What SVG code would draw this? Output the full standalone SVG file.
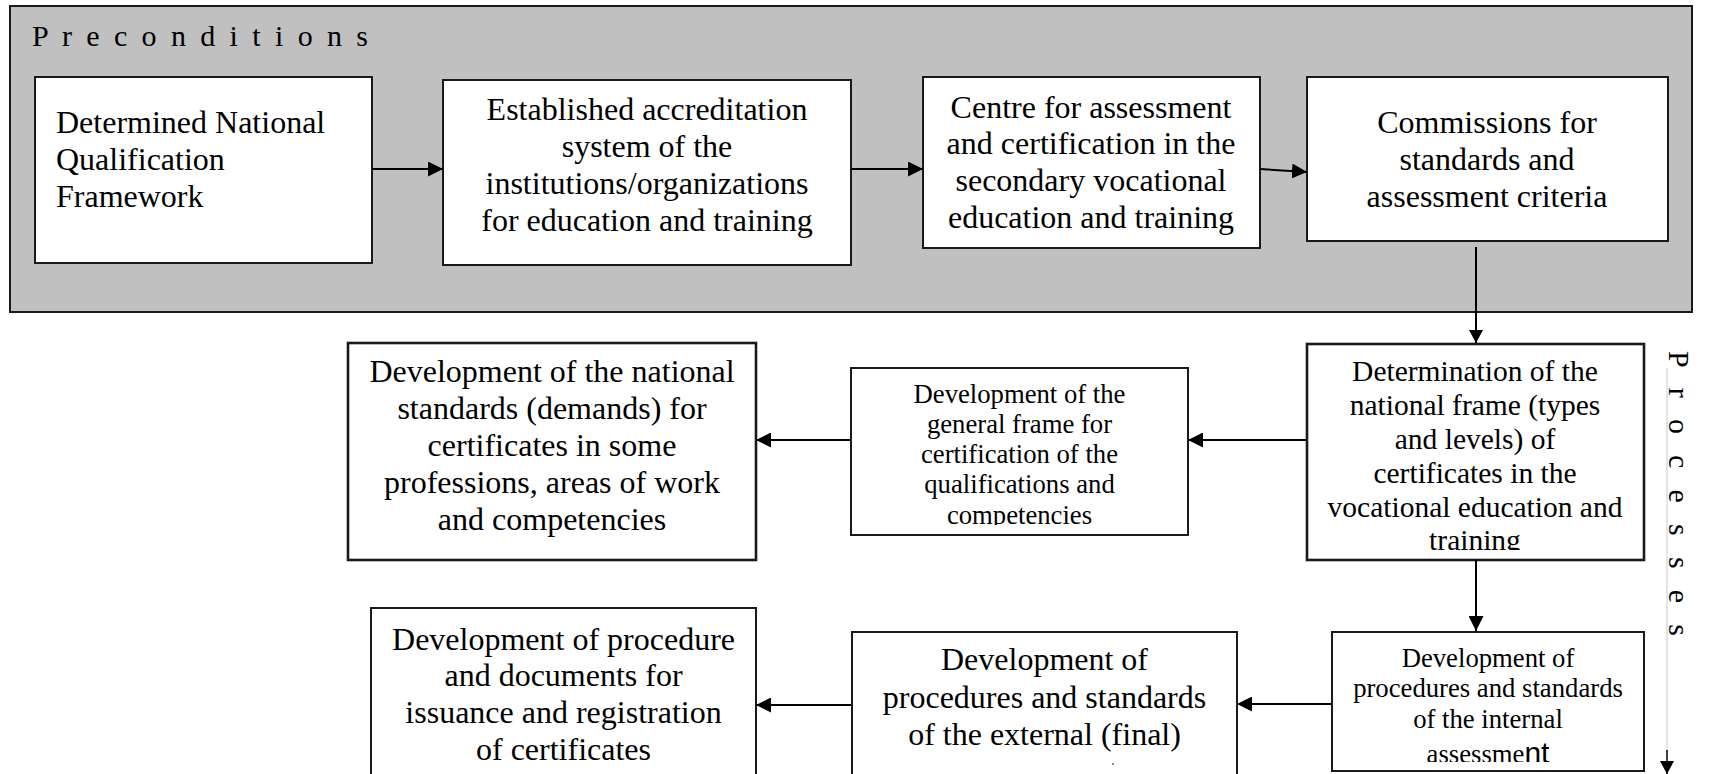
<svg xmlns="http://www.w3.org/2000/svg" width="1719" height="774" viewBox="0 0 1719 774">
<style>
.box{fill:#fff;stroke:#1a1a1a;stroke-width:2}
.thick{stroke-width:2.6}
.t{font-family:"Liberation Serif","Times New Roman",serif;fill:#000}
.t32{font-size:32px}
.t29{font-size:29.5px}
.t27{font-size:26.7px}
.c{text-anchor:middle}
.conn{fill:none;stroke:#000;stroke-width:2}
</style>
<defs>
<marker id="arr" markerUnits="userSpaceOnUse" markerWidth="16" markerHeight="15" refX="15" refY="7.5" orient="auto">
<path d="M0,0 L15,7.5 L0,15 z" fill="#000"/>
</marker>
<marker id="arrS" markerUnits="userSpaceOnUse" markerWidth="14" markerHeight="14" refX="13" refY="7" orient="auto">
<path d="M0,0 L13,7 L0,14 z" fill="#000"/>
</marker>
<clipPath id="clipGen"><rect x="851" y="368" width="337" height="157"/></clipPath>
<clipPath id="clipDet"><rect x="1307" y="344" width="337" height="206"/></clipPath>
<clipPath id="clipInt"><rect x="1332" y="632" width="312" height="130"/></clipPath>
</defs>

<g id="preconditions-panel">
<rect x="10" y="6" width="1682" height="306" fill="#c0c0c0" stroke="#1a1a1a" stroke-width="2"/>
<text class="t" x="32" y="46" font-size="30" textLength="336" lengthAdjust="spacing">P r e c o n d i t i o n s</text>
</g>

<g id="processes-label">
<text class="t" font-size="30" transform="translate(1669,351) rotate(90)" textLength="285" lengthAdjust="spacing">P r o c e s s e s</text>
</g>

<g id="node-nqf">
<rect class="box" x="35" y="77" width="337" height="186"/>
<text class="t t32" x="56" y="133">Determined National</text>
<text class="t t32" x="56" y="170">Qualification</text>
<text class="t t32" x="56" y="207">Framework</text>
</g>

<g id="node-accreditation">
<rect class="box" x="443" y="80" width="408" height="185"/>
<text class="t t32 c" x="647" y="120">Established accreditation</text>
<text class="t t32 c" x="647" y="157">system of the</text>
<text class="t t32 c" x="647" y="194">institutions/organizations</text>
<text class="t t32 c" x="647" y="231">for education and training</text>
</g>

<g id="node-centre">
<rect class="box" x="923" y="77" width="337" height="171"/>
<text class="t t32 c" x="1091" y="118">Centre for assessment</text>
<text class="t t32 c" x="1091" y="154">and certification in the</text>
<text class="t t32 c" x="1091" y="191">secondary vocational</text>
<text class="t t32 c" x="1091" y="228">education and training</text>
</g>

<g id="node-commissions">
<rect class="box" x="1307" y="77" width="361" height="164"/>
<text class="t t32 c" x="1487" y="133">Commissions for</text>
<text class="t t32 c" x="1487" y="170">standards and</text>
<text class="t t32 c" x="1487" y="207">assessment criteria</text>
</g>

<g id="node-determination">
<rect class="box thick" x="1307" y="344" width="337" height="216"/>
<g clip-path="url(#clipDet)">
<text class="t t29 c" x="1475" y="381">Determination of the</text>
<text class="t t29 c" x="1475" y="415">national frame (types</text>
<text class="t t29 c" x="1475" y="449">and levels) of</text>
<text class="t t29 c" x="1475" y="483">certificates in the</text>
<text class="t t29 c" x="1475" y="517">vocational education and</text>
<text class="t t29 c" x="1475" y="550">training</text>
</g>
</g>

<g id="node-general-frame">
<rect class="box" x="851" y="368" width="337" height="167"/>
<g clip-path="url(#clipGen)">
<text class="t t27 c" x="1019.5" y="403">Development of the</text>
<text class="t t27 c" x="1019.5" y="433">general frame for</text>
<text class="t t27 c" x="1019.5" y="463">certification of the</text>
<text class="t t27 c" x="1019.5" y="493">qualifications and</text>
<text class="t t27 c" x="1019.5" y="524">competencies</text>
</g>
</g>

<g id="node-national-standards">
<rect class="box thick" x="348" y="343" width="408" height="217"/>
<text class="t t32 c" x="552" y="382">Development of the national</text>
<text class="t t32 c" x="552" y="419">standards (demands) for</text>
<text class="t t32 c" x="552" y="456">certificates in some</text>
<text class="t t32 c" x="552" y="493">professions, areas of work</text>
<text class="t t32 c" x="552" y="530">and competencies</text>
</g>

<g id="node-internal">
<rect class="box" x="1332" y="632" width="312" height="139"/>
<g clip-path="url(#clipInt)">
<text class="t t27 c" x="1488" y="667">Development of</text>
<text class="t t27 c" x="1488" y="697">procedures and standards</text>
<text class="t t27 c" x="1488" y="728">of the internal</text>
<text class="t t27 c" x="1488" y="763">assessme<tspan font-family="'Liberation Sans',Arial,sans-serif" font-size="30">nt</tspan></text>
</g>
</g>

<g id="node-external">
<rect class="box" x="852" y="632" width="385" height="150"/>
<text class="t t32 c" x="1044.5" y="670">Development of</text>
<text class="t t32 c" x="1044.5" y="708">procedures and standards</text>
<text class="t t32 c" x="1044.5" y="745">of the external (final)</text>
<circle cx="1113" cy="764" r="1" fill="#666"/>
</g>

<g id="node-issuance">
<rect class="box" x="371" y="608" width="385" height="175"/>
<text class="t t32 c" x="563.5" y="650">Development of procedure</text>
<text class="t t32 c" x="563.5" y="686">and documents for</text>
<text class="t t32 c" x="563.5" y="723">issuance and registration</text>
<text class="t t32 c" x="563.5" y="760">of certificates</text>
</g>

<g id="connectors">
<path class="conn" d="M372,169 L443,169" marker-end="url(#arr)"/>
<path class="conn" d="M851,169 L923,169" marker-end="url(#arr)"/>
<path class="conn" d="M1260,169 L1307,172" marker-end="url(#arr)"/>
<path class="conn" d="M1476,247 L1476,343" marker-end="url(#arrS)"/>
<path class="conn" d="M1307,440 L1188,440" marker-end="url(#arr)"/>
<path class="conn" d="M851,440 L756,440" marker-end="url(#arr)"/>
<path class="conn" d="M1476,560 L1476,631" marker-end="url(#arr)"/>
<path class="conn" d="M1332,704 L1237,704" marker-end="url(#arr)"/>
<path class="conn" d="M851,705 L756,705" marker-end="url(#arr)"/>
<path d="M1667,368 L1667,752" fill="none" stroke="#c8c8c8" stroke-width="1"/>
<path d="M1667,750 L1667,774" fill="none" stroke="#000" stroke-width="1.5" marker-end="url(#arrS)"/>
</g>
</svg>
